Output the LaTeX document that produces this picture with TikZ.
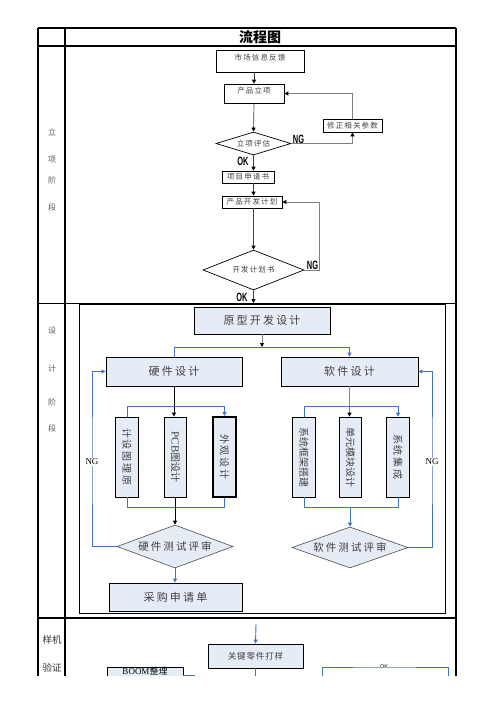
\documentclass[tikz,border=0pt]{standalone}
\usepackage{fontspec}
\setmainfont{Liberation Serif}
\newfontfamily\cjk{Noto Sans CJK SC}
\newfontfamily\cjks[LetterSpace=15]{Noto Sans CJK SC}
\newfontfamily\cjkm[LetterSpace=20]{Noto Sans CJK SC}
\newfontfamily\cjkt[LetterSpace=10]{Noto Sans CJK SC}
\newfontfamily\lsans{Liberation Sans}
\usetikzlibrary{arrows.meta,shapes.geometric}
\definecolor{lb}{RGB}{230,236,246}
\definecolor{bl}{RGB}{68,114,196}
\definecolor{txt}{RGB}{64,64,64}
\definecolor{gln}{RGB}{128,128,128}
\definecolor{lab}{RGB}{90,90,90}
\newcommand{\ngk}[1]{\scalebox{0.62}[1]{\lsans\bfseries\fontsize{12}{12}\selectfont #1}}
\begin{document}
\begin{tikzpicture}[x=1pt,y=-1pt,
  >={Triangle[length=4pt,width=4pt]},
  kt/.tip={Triangle[length=4pt,width=4pt,color=black]},
  tbl/.style={line width=1.1pt},
  stl/.style={inner sep=0pt, text=lab, font=\cjk\fontsize{8}{9}\selectfont},
  s1/.style={draw, line width=0.7pt, fill=white, inner sep=0pt, text=txt, font=\cjks\fontsize{7.5}{8}\selectfont},
  dm1/.style={diamond, aspect=3, draw, line width=0.7pt, fill=white, inner sep=0pt, text=txt, font=\cjks\fontsize{7.5}{8}\selectfont},
  s2/.style={draw, line width=0.8pt, fill=lb, inner sep=0pt, text=txt, font=\cjkm\fontsize{11}{12}\selectfont},
  vb/.style={draw, line width=0.8pt, fill=lb, inner sep=0pt, minimum width=22.5, minimum height=80, text=txt, font=\cjk\fontsize{10}{11}\selectfont},
  dm2/.style={diamond, aspect=2.7, draw=black!70, line width=0.6pt, fill=lb, inner sep=0pt, text=txt, font=\cjkm\fontsize{10.5}{11}\selectfont},
  s3/.style={draw, line width=0.8pt, fill=lb, inner sep=0pt, text=txt, font=\cjkt\fontsize{8.5}{9}\selectfont},
  c1/.style={draw=black!75, line width=0.7pt},
  c1g/.style={draw=gln, line width=0.9pt},
  c2b/.style={draw=bl, line width=0.9pt},
  c2k/.style={draw=black, line width=0.9pt},
  c2g/.style={draw=gln, line width=0.9pt},
  ngl/.style={inner sep=0pt, text=black},
  ng2/.style={fill=white, inner sep=1pt, text=black, font=\fontsize{9}{9}\selectfont}
]
\useasboundingbox (0,0) rectangle (496,702);
\begin{scope}
\clip (0,0) rectangle (496,675.5);
% ---------- table ----------
\draw[tbl] (38,28) -- (456,28);
\draw[tbl] (38,46) -- (456,46);
\draw[tbl] (38,303.5) -- (456,303.5);
\draw[tbl] (38,618) -- (456,618);
\draw[tbl] (38,28) -- (38,690);
\draw[tbl] (65,28) -- (65,690);
\draw[tbl] (456,28) -- (456,690);
\node[font=\cjk\bfseries\fontsize{14}{15}\selectfont, inner sep=0pt] (title) at (260,37.5) {流程图};
% stage labels
\node[stl] (a1) at (52,132) {立};
\node[stl] (a2) at (52,160) {项};
\node[stl] (a3) at (52,180) {阶};
\node[stl] (a4) at (52,207) {段};
\node[stl] (b1) at (52,331) {设};
\node[stl] (b2) at (52,368) {计};
\node[stl] (b3) at (52,402) {阶};
\node[stl] (b4) at (52,428) {段};
\node[stl, text=black!80, font=\cjk\fontsize{9.5}{10}\selectfont] (c1l) at (52,640) {样机};
\node[stl, text=black!80, font=\cjk\fontsize{9.5}{10}\selectfont] (c2l) at (52,668) {验证};
% ---------- stage 1 ----------
\node[s1, minimum width=88, minimum height=22, text height=10pt, text depth=12pt] (n1) at (260,61) {市场信息反馈};
\node[s1, minimum width=60, minimum height=19, text height=9pt, text depth=10pt] (n2) at (254,93.5) {产品立项};
\node[s1, minimum width=59, minimum height=13] (n3) at (352.5,125.5) {修正相关参数};
\node[dm1, minimum width=75, minimum height=23] (d1) at (253.5,143.5) {立项评估};
\node[s1, minimum width=52, minimum height=12] (n4) at (248,177) {项目申请书};
\node[s1, minimum width=60, minimum height=12] (n5) at (252,202) {产品开发计划};
\node[dm1, minimum width=101, minimum height=40] (d2) at (253.5,270) {开发计划书};
\draw[c1,-kt] (n2.north |- n1.south) -- (n2.north);
\draw[c1,-kt] (n2.south) -- (d1.north);
\draw[c1g,-kt] (d1.east) -| (n3.south);
\draw[c1g,-kt] (n3.north) |- (n2.east);
\draw[c1,-kt] (d1.south) -- (d1.south |- n4.north);
\draw[c1,-kt] (d1.south |- n4.south) -- (d1.south |- n5.north);
\draw[c1,-kt] (d2.north |- n5.south) -- (d2.north);
\coordinate (c2) at (319,202);
\draw[c1g,-kt] (d2.east) -| (c2) -- (n5.east);
\coordinate (e1) at (253.5,303);
\draw[c1,-kt] (d2.south) -- (e1);
\node[ngl] (ng1) at (298.5,139) {\ngk{NG}};
\node[ngl] (ok1) at (243,161) {\ngk{OK}};
\node[ngl] (ngb) at (312.5,265.5) {\ngk{NG}};
\node[ngl] (ok2) at (242,297.5) {\ngk{OK}};
% ---------- stage 2 ----------
\draw[line width=0.9pt] (79,304) rectangle (445,613);
\draw[line width=2.2pt] (79,304) -- (445.5,304);
\node[s2, minimum width=136, minimum height=27] (p1) at (262,320.5) {原型开发设计};
\node[s2, minimum width=136, minimum height=29] (hw) at (174,371.5) {硬件设计};
\node[s2, minimum width=137, minimum height=29] (sw) at (349.5,371.5) {软件设计};
\node[vb] (v1) at (127,457) {\rotatebox{-90}{\cjkm 计设图理原}};
\node[vb] (v2) at (175.5,457) {\rotatebox{-90}{{\fontspec{Liberation Serif}\fontsize{11}{11}\selectfont PCB}图设计}};
\node[vb, line width=2.2pt] (v3) at (224.5,457) {\rotatebox{-90}{\cjkm 外观设计}};
\node[vb] (v4) at (304,457) {\rotatebox{-90}{系统框架搭建}};
\node[vb] (v5) at (350.5,457) {\rotatebox{-90}{单元模块设计}};
\node[vb] (v6) at (398,457) {\rotatebox{-90}{\cjkm 系统集成}};
\node[dm2, minimum width=116, minimum height=43] (dh) at (175,546.5) {硬件测试评审};
\node[dm2, minimum width=116, minimum height=41] (ds) at (350,547.5) {软件测试评审};
\node[s2, minimum width=133, minimum height=28] (pr) at (175.5,597) {采购申请单};
\coordinate (sp) at (262,347);
\draw[c2g,-kt] (p1.south) -- (sp);
\draw[c2b] (hw.north) |- (sp);
\draw[c2b,->] (sp) -| (sw.north);
\draw[c2k,->] (hw.south) -- (hw.south |- v2.north);
\draw[c2b,->] (v1.north) -- ++(0,-10) -| (v3.north);
\draw[c2b] (v1.south) -- ++(0,10) -| (v3.south);
\draw[c2k,->] (dh.north |- v2.south) -- (dh.north);
\draw[c2g,-kt] (sw.south) -- (sw.south |- v5.north);
\draw[c2b,->] (v4.north) -- ++(0,-10) -| (v6.north);
\draw[c2b] (v4.south) -- ++(0,10) coordinate (sb) -| (v6.south);
\draw[c2b,->] (ds.north |- sb) -- (ds.north);
\coordinate (nh) at (92,462);
\coordinate (ns) at (432,462);
\draw[c2b,->] (dh.west) -| (nh) |- (hw.west);
\draw[c2b,->] (ds.east) -| (ns) |- (sw.east);
\node[ng2] (ngh) at (nh) {NG};
\node[ng2] (ngs) at (ns) {NG};
\draw[c2b,->] (dh.south) -- (dh.south |- pr.north);
% ---------- stage 3 ----------
\coordinate (t3) at (256,624);
\node[s3, minimum width=95, minimum height=24] (k1) at (255.5,656) {关键零件打样};
\draw[c2b,->] (t3) -- (k1.north);
\draw[c2b] (k1.south) -- ++(0,25);
\node[s3, minimum width=76, minimum height=16, text height=7pt, text depth=9pt, text=black, font=\cjk\fontsize{9}{9}\selectfont] (bom) at (145,675) {{\fontspec{Liberation Serif}BOOM}整理};
\draw[c2b] (bom.east) -- ++(11,0) -- ++(0,10);
\coordinate (o1) at (322,690);
\coordinate (o2) at (448,690);
\coordinate (okc) at (384,667);
\draw[c2b] (o1) |- (okc) -| (o2);
\node[fill=white, inner sep=0.5pt, font=\lsans\fontsize{5.5}{6}\selectfont] (okl) at (okc) {OK};
\end{scope}
\end{tikzpicture}
\end{document}
